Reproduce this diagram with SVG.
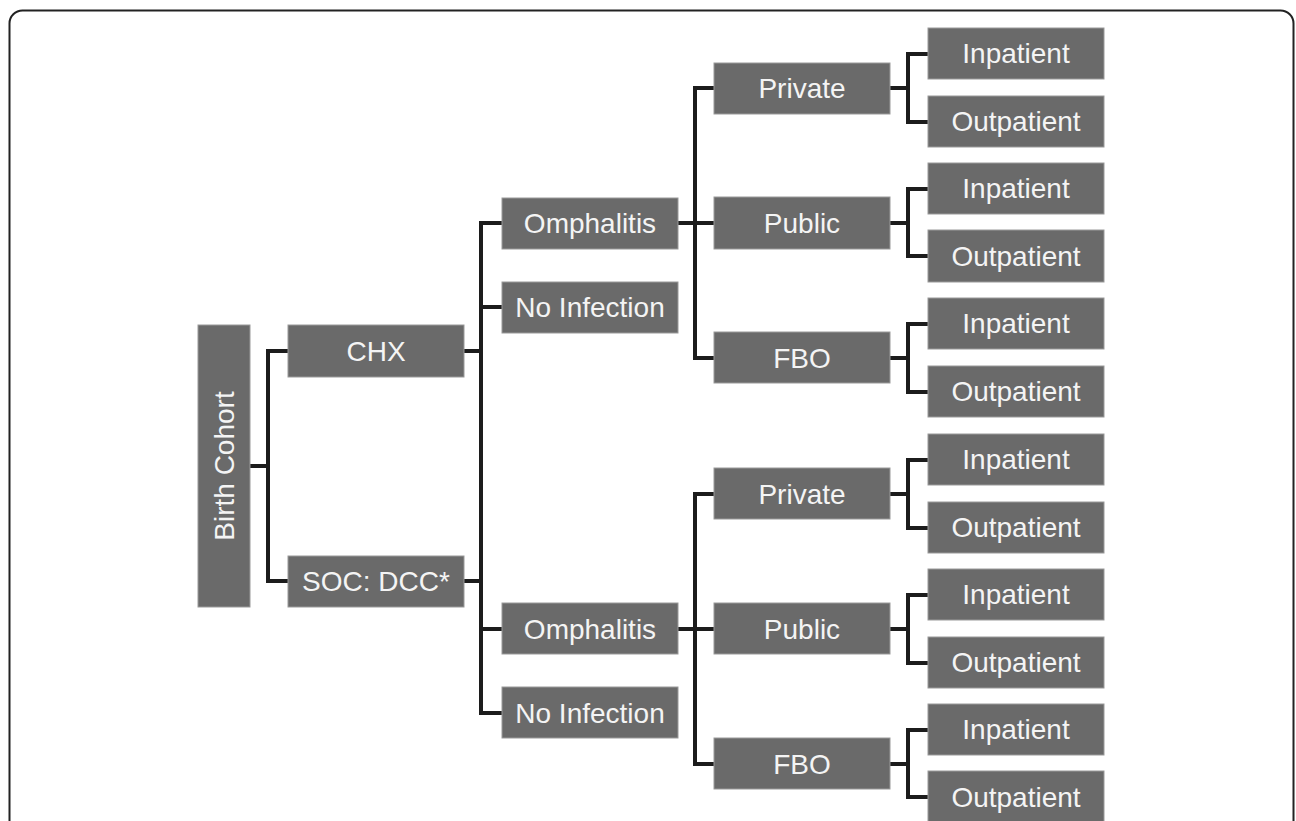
<svg xmlns="http://www.w3.org/2000/svg" width="1296" height="821" viewBox="0 0 1296 821">
<style>
.b{fill:#6a6a6a;stroke:#9a9a9a;stroke-width:1}
.t{fill:#f4f4f4;font-family:"Liberation Sans",Arial,sans-serif;font-size:28px;text-anchor:middle;dominant-baseline:central}
.c{fill:none;stroke:#1c1c1c;stroke-width:4;stroke-linecap:butt;stroke-linejoin:miter}
</style>
<rect x="9.5" y="10.5" width="1284" height="900" rx="13" fill="#fff" stroke="#222" stroke-width="2"/>
<g id="connectors">
<path class="c" d="M250 466H268M288 351H268V581H288"/>
<path class="c" d="M464 351H481M464 581H481M502 223H481V713H502M481 307H502M481 629H502"/>
<path class="c" d="M678 223H714M714 88H695V358H714"/>
<path class="c" d="M678 629H714M714 494H695V764H714"/>
<path class="c" d="M890 88H908M928 54H908V122H928"/>
<path class="c" d="M890 223H908M928 189H908V256H928"/>
<path class="c" d="M890 358H908M928 324H908V392H928"/>
<path class="c" d="M890 494H908M928 460H908V528H928"/>
<path class="c" d="M890 629H908M928 595H908V663H928"/>
<path class="c" d="M890 764H908M928 730H908V797H928"/>
</g>
<g id="birth"><rect class="b" x="198" y="325" width="52" height="282"/><text class="t" transform="translate(224 466) rotate(-90)">Birth Cohort</text></g>
<g id="chx"><rect class="b" x="288" y="325" width="176" height="52"/><text class="t" x="376" y="351">CHX</text></g>
<g id="soc"><rect class="b" x="288" y="556" width="176" height="51"/><text class="t" x="376" y="581">SOC: DCC*</text></g>
<g id="omph1"><rect class="b" x="502" y="198" width="176" height="51"/><text class="t" x="590" y="223">Omphalitis</text></g>
<g id="noinf1"><rect class="b" x="502" y="282" width="176" height="51"/><text class="t" x="590" y="307">No Infection</text></g>
<g id="omph2"><rect class="b" x="502" y="603" width="176" height="51"/><text class="t" x="590" y="629">Omphalitis</text></g>
<g id="noinf2"><rect class="b" x="502" y="687" width="176" height="51"/><text class="t" x="590" y="713">No Infection</text></g>
<g id="private1"><rect class="b" x="714" y="63" width="176" height="51"/><text class="t" x="802" y="88">Private</text></g>
<g id="public1"><rect class="b" x="714" y="197" width="176" height="52"/><text class="t" x="802" y="223">Public</text></g>
<g id="fbo1"><rect class="b" x="714" y="332" width="176" height="51"/><text class="t" x="802" y="358">FBO</text></g>
<g id="private2"><rect class="b" x="714" y="468" width="176" height="51"/><text class="t" x="802" y="494">Private</text></g>
<g id="public2"><rect class="b" x="714" y="603" width="176" height="51"/><text class="t" x="802" y="629">Public</text></g>
<g id="fbo2"><rect class="b" x="714" y="738" width="176" height="51"/><text class="t" x="802" y="764">FBO</text></g>
<g id="in1"><rect class="b" x="928" y="28" width="176" height="51"/><text class="t" x="1016" y="53">Inpatient</text></g>
<g id="out1"><rect class="b" x="928" y="96" width="176" height="51"/><text class="t" x="1016" y="121">Outpatient</text></g>
<g id="in2"><rect class="b" x="928" y="163" width="176" height="51"/><text class="t" x="1016" y="188">Inpatient</text></g>
<g id="out2"><rect class="b" x="928" y="230" width="176" height="52"/><text class="t" x="1016" y="256">Outpatient</text></g>
<g id="in3"><rect class="b" x="928" y="298" width="176" height="51"/><text class="t" x="1016" y="323">Inpatient</text></g>
<g id="out3"><rect class="b" x="928" y="366" width="176" height="51"/><text class="t" x="1016" y="391">Outpatient</text></g>
<g id="in4"><rect class="b" x="928" y="434" width="176" height="51"/><text class="t" x="1016" y="459">Inpatient</text></g>
<g id="out4"><rect class="b" x="928" y="502" width="176" height="51"/><text class="t" x="1016" y="527">Outpatient</text></g>
<g id="in5"><rect class="b" x="928" y="569" width="176" height="51"/><text class="t" x="1016" y="594">Inpatient</text></g>
<g id="out5"><rect class="b" x="928" y="637" width="176" height="51"/><text class="t" x="1016" y="662">Outpatient</text></g>
<g id="in6"><rect class="b" x="928" y="704" width="176" height="51"/><text class="t" x="1016" y="729">Inpatient</text></g>
<g id="out6"><rect class="b" x="928" y="771" width="176" height="52"/><text class="t" x="1016" y="797">Outpatient</text></g>
</svg>
